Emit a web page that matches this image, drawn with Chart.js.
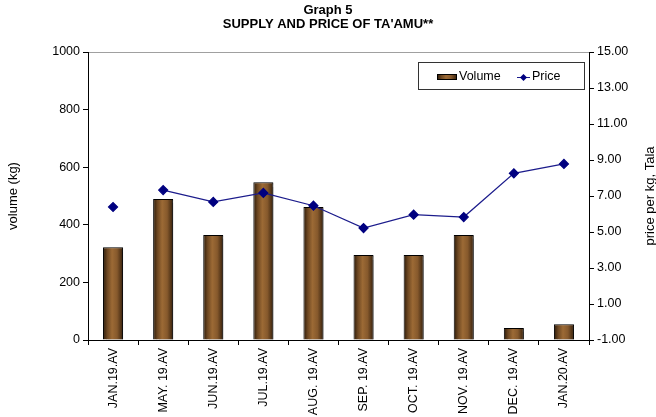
<!DOCTYPE html>
<html>
<head>
<meta charset="utf-8">
<script src="https://cdn.jsdelivr.net/npm/chart.js@4/dist/chart.umd.min.js"></script>
<style>
  html, body { margin: 0; padding: 0; background: #fff; }
  #wrap { width: 656px; height: 417px; }
</style>
</head>
<body>
<div id="wrap"><canvas id="chart" width="656" height="417"></canvas></div>
<script>
// values
const months = ['JAN.19.AV', 'MAY. 19.AV', 'JUN.19.AV', 'JUL.19.AV', 'AUG. 19.AV',
                'SEP. 19.AV', 'OCT. 19.AV', 'NOV. 19.AV', 'DEC. 19.AV', 'JAN.20.AV'];
const volume = [322, 490, 365, 548, 462, 295, 295, 365, 42, 55];
const price = [6.39, 7.33, 6.67, 7.17, 6.46, 5.22, 5.96, 5.83, 8.26, 8.78];
const titleLines = ['Graph 5', "SUPPLY AND PRICE OF TA'AMU**"];
const priceAxisTitle = 'price per kg, Tala';

const FONT = "'Liberation Sans', Arial, sans-serif";

function brownGradient(ctx, x0, x1) {
    const g = ctx.createLinearGradient(x0, 0, x1, 0);
    g.addColorStop(0, '#2a1908');
    g.addColorStop(0.22, '#6e4822');
    g.addColorStop(0.45, '#9c6a35');
    g.addColorStop(0.7, '#86592c');
    g.addColorStop(1, '#341f0c');
    return g;
}

// soft grey shadow to the right of the bars
const barShadow = {
    id: 'barShadow',
    beforeDatasetDraw(chart, args) {
        if (args.index !== 0) return;
        const c = chart.ctx;
        c.save();
        c.shadowColor = 'rgba(0,0,0,0.3)';
        c.shadowOffsetX = 3;
        c.shadowOffsetY = 1;
        c.shadowBlur = 1;
    },
    afterDatasetDraw(chart, args) {
        if (args.index !== 0) return;
        chart.ctx.restore();
    }
};

// right axis title reads bottom-to-top in the original, chart.js turns it the other way
const rightTitle = {
    id: 'rightTitle',
    afterDraw(chart) {
        const c = chart.ctx;
        const area = chart.chartArea;
        c.save();
        c.translate(650, (area.top + area.bottom) / 2);
        c.rotate(-Math.PI / 2);
        c.font = '13px ' + FONT;
        c.fillStyle = '#000';
        c.textAlign = 'center';
        c.textBaseline = 'middle';
        c.fillText(priceAxisTitle, 0, 0);
        c.restore();
    }
};

// boxed legend sitting inside the plot, top right
const boxLegend = {
    id: 'boxLegend',
    afterDraw(chart) {
        const c = chart.ctx;
        const ds = chart.data.datasets;
        c.save();
        c.fillStyle = '#fff';
        c.fillRect(418.5, 62.5, 166, 27);
        c.strokeStyle = '#333';
        c.lineWidth = 1;
        c.strokeRect(418.5, 62.5, 166, 27);

        c.fillStyle = brownGradient(c, 437, 457);
        c.fillRect(437, 74, 20, 6);
        c.strokeStyle = '#000';
        c.strokeRect(437.5, 74.5, 19, 5);

        c.font = '12.5px ' + FONT;
        c.fillStyle = '#000';
        c.textBaseline = 'middle';
        c.fillText(ds[0].label, 459, 77);

        c.strokeStyle = '#1c1c8c';
        c.beginPath();
        c.moveTo(517, 77.5);
        c.lineTo(530, 77.5);
        c.stroke();
        c.fillStyle = '#000080';
        c.beginPath();
        c.moveTo(523.5, 74);
        c.lineTo(527, 77.5);
        c.lineTo(523.5, 81);
        c.lineTo(520, 77.5);
        c.closePath();
        c.fill();
        c.fillStyle = '#000';
        c.fillText(ds[1].label, 532, 77);
        c.restore();
    }
};

const ctx = document.getElementById('chart').getContext('2d');
new Chart(ctx, {
    type: 'bar',
    data: {
        labels: months,
        datasets: [{
            type: 'bar',
            label: 'Volume',
            data: volume,
            yAxisID: 'y',
            order: 2,
            backgroundColor: function(context) {
                const chart = context.chart;
                const area = chart.chartArea;
                if (!area) return '#8a5a2b';
                const w = (area.right - area.left) / months.length * 0.4;
                const cx = chart.scales.x.getPixelForValue(context.dataIndex);
                return brownGradient(chart.ctx, cx - w / 2, cx + w / 2);
            },
            borderColor: '#000',
            borderWidth: 1,
            categoryPercentage: 1,
            barPercentage: 0.4
        }, {
            type: 'line',
            label: 'Price',
            data: price,
            yAxisID: 'y1',
            order: 1,
            borderColor: '#1c1c8c',
            borderWidth: 1.2,
            pointStyle: 'rectRot',
            pointRadius: 4.5,
            pointBackgroundColor: '#000080',
            pointBorderColor: '#000080',
            tension: 0,
            // the first month is not joined to the rest in the original
            segment: {
                borderColor: c => c.p0DataIndex === 0 ? 'rgba(0,0,0,0)' : '#1c1c8c'
            }
        }]
    },
    options: {
        responsive: false,
        animation: false,
        layout: { padding: 0 },
        plugins: {
            legend: { display: false },
            tooltip: { enabled: false },
            title: {
                display: true,
                text: titleLines,
                color: '#000',
                font: { family: FONT, size: 13, weight: 'bold', lineHeight: 1.1 },
                padding: { top: 3, bottom: 20.4 }
            }
        },
        scales: {
            x: {
                afterFit: s => { s.height = 77; },
                grid: { offset: true, drawOnChartArea: false, tickLength: 5, tickColor: '#000' },
                border: { color: '#000', width: 1 },
                ticks: {
                    autoSkip: false, minRotation: 90, maxRotation: 90, padding: 3,
                    color: '#000', font: { family: FONT, size: 12.5 }
                }
            },
            y: {
                position: 'left',
                min: 0, max: 1000,
                afterFit: s => { s.width = 88; },
                grid: {
                    drawOnChartArea: true, tickLength: 5, tickColor: '#000',
                    color: c => (c.tick && c.tick.value === 1000) ? '#a0a0a0' : 'rgba(0,0,0,0)'
                },
                border: { color: '#000', width: 1 },
                ticks: {
                    stepSize: 200, padding: 3, color: '#000', font: { family: FONT, size: 12.5 },
                    callback: v => String(v)
                },
                title: {
                    display: true, text: 'volume (kg)', color: '#000',
                    font: { family: FONT, size: 13 }, padding: { top: 6, bottom: 0 }
                }
            },
            y1: {
                position: 'right',
                min: -1, max: 15,
                afterFit: s => { s.width = 67; },
                grid: { drawOnChartArea: false, tickLength: 5, tickColor: '#000' },
                border: { color: '#000', width: 1 },
                ticks: {
                    stepSize: 2, padding: 3, color: '#000', font: { family: FONT, size: 12.5 },
                    callback: v => v.toFixed(2)
                }
            }
        }
    },
    plugins: [barShadow, rightTitle, boxLegend]
});
</script>
</body>
</html>
